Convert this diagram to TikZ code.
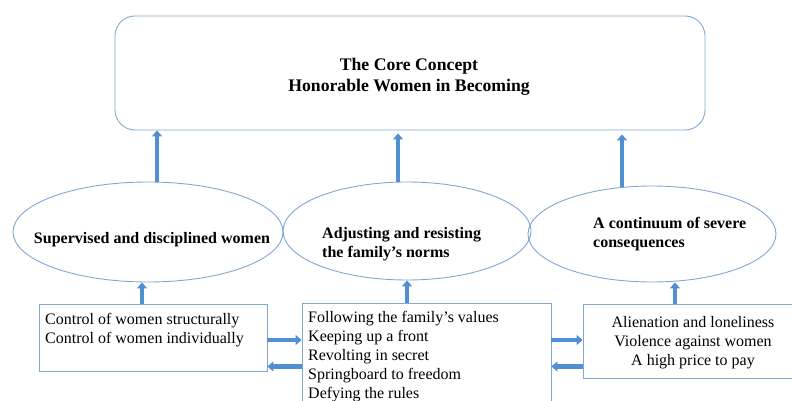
\documentclass[tikz,border=0pt]{standalone}
\usepackage{fontspec}
\setmainfont{Liberation Serif}
\usetikzlibrary{arrows.meta,shapes.geometric}
\definecolor{arrblue}{RGB}{79,143,210}
\definecolor{lineblue}{RGB}{128,168,214}
\begin{document}
\begin{tikzpicture}[x=1pt,y=-1pt,
  outline/.style={draw=lineblue,line width=0.9pt},
  oval/.style={outline,ellipse,inner sep=0pt},
  boxed/.style={outline,rectangle,inner sep=0pt},
  bigarrow/.style={draw=arrblue,line width=4.5pt,-{Triangle[width=10pt,length=6pt]}},
  body/.style={font=\fontsize{16}{19}\selectfont,inner sep=0pt},
  head/.style={font=\bfseries\fontsize{16}{19}\selectfont,inner sep=0pt}]
\useasboundingbox (0,0) rectangle (792,401);
\clip (0,0) rectangle (792,401);
\fill[white] (0,0) rectangle (792,401);

% core box
\node[outline,rounded corners=20pt,minimum width=590pt,minimum height=114pt,inner sep=0pt] (core) at (410,73) {};
\node[font=\bfseries\fontsize{17.7}{21}\selectfont,align=center,inner sep=0pt] (title) at (409,76.5) {The Core Concept\\Honorable Women in Becoming};

% ellipses
\node[oval,minimum width=270pt,minimum height=100pt] (e1) at (148,232) {};
\node[oval,minimum width=248pt,minimum height=98pt] (e2) at (407,231) {};
\node[oval,minimum width=248pt,minimum height=96pt] (e3) at (652,234) {};
\node[head,anchor=base] (t1) at (152,243) {Supervised and disciplined women};
\node[head,anchor=north west,align=left] (t2) at (322,227) {Adjusting and resisting\\the family’s norms};
\node[head,anchor=north west,align=left] (t3) at (593,217) {A continuum of severe\\consequences};

% bottom boxes
\node[boxed,minimum width=228pt,minimum height=67pt] (lbox) at (153,337.5) {};
\node[boxed,minimum width=249pt,minimum height=127pt] (mbox) at (426.5,366.5) {};
\node[boxed,minimum width=227pt,minimum height=74pt] (rbox) at (696.5,341) {};
\node[body,anchor=north west,align=left] (lt) at (45,313) {Control of women structurally\\Control of women individually};
\node[body,anchor=north west,align=left] (mt) at (308,311) {Following the family’s values\\Keeping up a front\\Revolting in secret\\Springboard to freedom\\Defying the rules};
\node[body,anchor=north,align=center] (rt) at (693,316) {Alienation and loneliness\\Violence against women\\A high price to pay};

% arrows up to core
\draw[bigarrow] ([xshift=9pt]e1.north) -- ([xshift=9pt]e1.north |- core.south);
\draw[bigarrow,shorten >=3pt] ([xshift=-9pt]e2.north) -- ([xshift=-9pt]e2.north |- core.south);
\draw[bigarrow,shorten >=4pt] ([xshift=-30pt,yshift=-1pt]e3.north) -- ([xshift=-30pt]e3.north |- core.south);

% arrows up from boxes
\draw[bigarrow] ([xshift=-11pt]lbox.north) -- ([xshift=-11pt]lbox.north |- e1.south);
\draw[bigarrow] ([xshift=-19.5pt]mbox.north) -- ([xshift=-19.5pt]mbox.north |- e2.south);
\draw[bigarrow] ([xshift=-21.5pt]rbox.north) -- ([xshift=-21.5pt]rbox.north |- e3.south);

% horizontal arrows
\coordinate (rowA) at (0,340);
\coordinate (rowB) at (0,366.5);
\draw[bigarrow] (lbox.east |- rowA) -- (mbox.west |- rowA);
\draw[bigarrow] (mbox.west |- rowB) -- (lbox.east |- rowB);
\draw[bigarrow] (mbox.east |- rowA) -- (rbox.west |- rowA);
\draw[bigarrow] (rbox.west |- rowB) -- (mbox.east |- rowB);
\end{tikzpicture}
\end{document}
